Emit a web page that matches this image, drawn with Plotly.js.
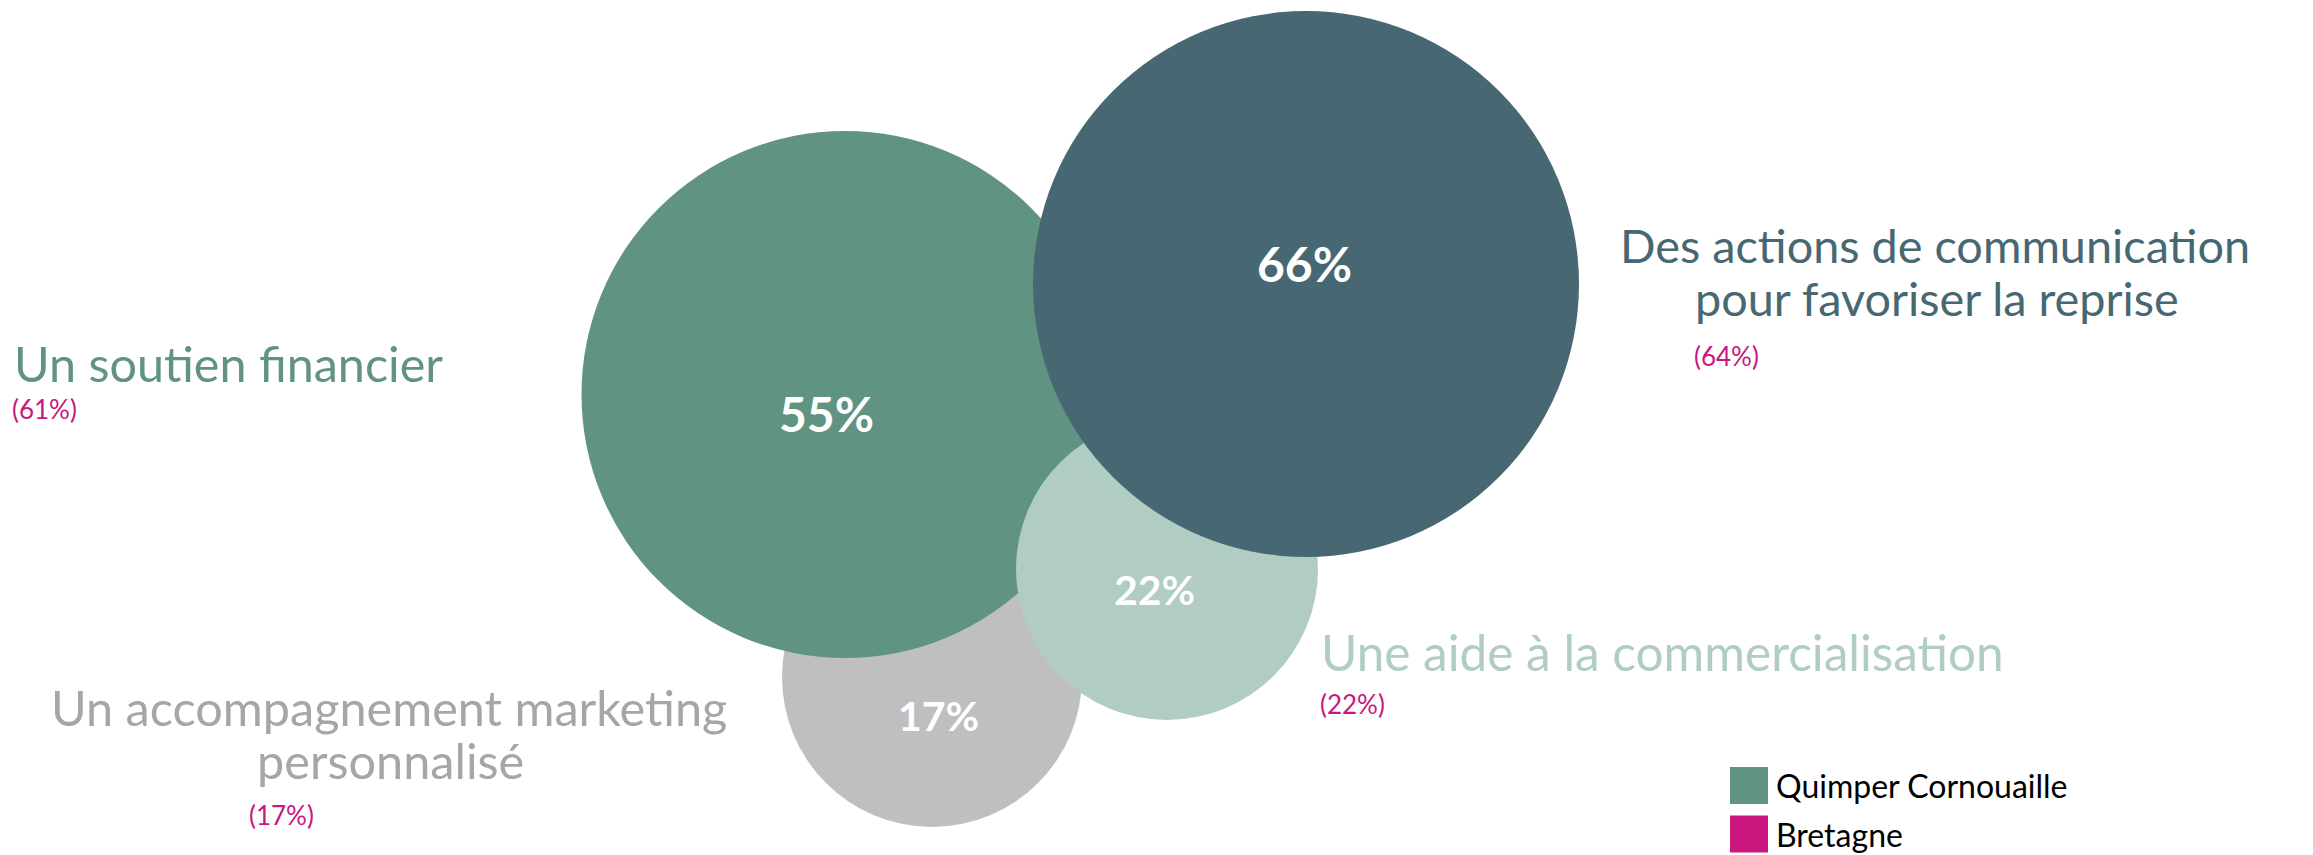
<!DOCTYPE html>
<html>
<head>
<meta charset="utf-8">
<script src="https://cdn.plot.ly/plotly-3.0.1.min.js"></script>
<style>
  html, body { margin: 0; padding: 0; background: #ffffff; }
  #chart { width: 2313px; height: 855px; }
</style>
</head>
<body>
<div id="chart"></div>
<script>
// ---------- data ----------
const categoryLines = [
  ["Un soutien financier"],
  ["Des actions de communication", "pour favoriser la reprise"],
  ["Une aide à la commercialisation"],
  ["Un accompagnement marketing", "personnalisé"]
];
const categories = categoryLines.map(l => l.join(" "));
const quimperValues = [55, 66, 22, 17];   // Quimper Cornouaille
const bretagneValues = [61, 64, 22, 17];  // Bretagne
const seriesNames = ["Quimper Cornouaille", "Bretagne"];

// ---------- layout / style (kept apart from data) ----------
const W = 2313, H = 855;
const bubbleX = [845, 1306, 1167, 932];
const bubbleY = [394.5, 284, 569, 677];
const bubbleDiameter = [527, 546, 302, 300];
const bubbleColors = ["#619383", "#476872", "#B0CCC3", "#BFBFBF"];
const labelColors = ["#619383", "#476872", "#B0CCC3", "#A6A6A6"];
const labelSizes = [48.5, 46.8, 49.5, 48.6];
const drawOrder = [3, 0, 2, 1];
const valueTextPos = [[826, 413], [1304, 263], [1154, 589], [938, 715]];
const valueTextSize = [48, 48, 41, 41];
// label line positions: [x, y, xanchor]
const labelLinePos = [
  [[12, 363, "left"]],
  [[1935, 245, "center"], [1937, 298, "center"]],
  [[1319, 652, "left"]],
  [[389, 707, "center"], [390, 760, "center"]]
];
const bretagnePos = [[10, 409, "left"], [1692, 356, "left"], [1318, 704, "left"], [247, 815, "left"]];
const magenta = "#C8177F";
const FONT = "Lato, 'Open Sans', 'Noto Sans', sans-serif";

const traces = drawOrder.map(i => ({
  type: "scatter",
  mode: "markers",
  x: [bubbleX[i]],
  y: [bubbleY[i]],
  name: categories[i],
  showlegend: false,
  hoverinfo: "skip",
  cliponaxis: false,
  marker: { size: bubbleDiameter[i], color: bubbleColors[i], opacity: 1, line: { width: 0 } }
}));

const annotations = [];
quimperValues.forEach((v, i) => {
  annotations.push({
    xref: "x", yref: "y", x: valueTextPos[i][0], y: valueTextPos[i][1],
    xanchor: "center", yanchor: "middle", showarrow: false,
    text: "<b>" + v + "%</b>",
    font: { family: FONT, size: valueTextSize[i], color: "#ffffff" }
  });
});
categoryLines.forEach((lines, i) => {
  lines.forEach((line, j) => {
    const p = labelLinePos[i][j];
    annotations.push({
      xref: "x", yref: "y", x: p[0], y: p[1], xanchor: p[2], yanchor: "middle",
      showarrow: false, text: line,
      font: { family: FONT, size: labelSizes[i], color: labelColors[i] }
    });
  });
});
bretagneValues.forEach((v, i) => {
  const p = bretagnePos[i];
  annotations.push({
    xref: "x", yref: "y", x: p[0], y: p[1], xanchor: p[2], yanchor: "middle",
    showarrow: false, text: "(" + v + "%)",
    font: { family: FONT, size: 26, color: magenta }
  });
});

// legend drawn as squares + text
const legendColors = [bubbleColors[0], magenta];
const legendY = [785.5, 834];
const shapes = [];
seriesNames.forEach((n, k) => {
  shapes.push({
    type: "rect", xref: "x", yref: "y",
    x0: 1730, x1: 1768, y0: legendY[k] - 18.5, y1: legendY[k] + 18.5,
    fillcolor: legendColors[k], line: { width: 0 }, layer: "above"
  });
  annotations.push({
    xref: "x", yref: "y", x: 1774, y: legendY[k], xanchor: "left", yanchor: "middle",
    showarrow: false, text: n,
    font: { family: FONT, size: 32, color: "#000000" }
  });
});

const layout = {
  width: W, height: H,
  margin: { l: 0, r: 0, t: 0, b: 0, pad: 0 },
  paper_bgcolor: "#ffffff", plot_bgcolor: "#ffffff",
  showlegend: false,
  xaxis: { range: [0, W], visible: false, fixedrange: true },
  yaxis: { range: [H, 0], visible: false, fixedrange: true },
  annotations: annotations,
  shapes: shapes
};

Plotly.newPlot("chart", traces, layout, { staticPlot: true, displayModeBar: false });
</script>
</body>
</html>
